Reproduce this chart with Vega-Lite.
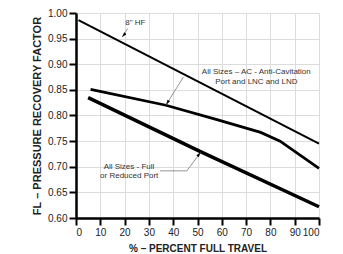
{
  "$schema": "https://vega.github.io/schema/vega-lite/v6.json",
  "width": 243,
  "height": 205,
  "autosize": {"type": "none"},
  "padding": {"left": 76, "top": 13, "right": 24, "bottom": 36},
  "background": "white",
  "config": {
    "view": {"stroke": null},
    "font": "Liberation Sans",
    "axis": {
      "grid": true,
      "gridColor": "#dcdcdc",
      "gridWidth": 1,
      "domainColor": "#000",
      "domainWidth": 2.5,
      "tickColor": "#000",
      "tickWidth": 2,
      "tickSize": 7,
      "labelFont": "Liberation Sans",
      "labelFontSize": 10,
      "labelColor": "#222",
      "labelPadding": 2,
      "labelOverlap": false,
      "titleFont": "Liberation Sans",
      "titleColor": "#222",
      "titleFontWeight": "bold"
    }
  },
  "datasets": {
    "curves": [
      {"series": "8in HF", "x": 1, "y": 0.986},
      {"series": "8in HF", "x": 100, "y": 0.745},
      {"series": "AC", "x": 6, "y": 0.851},
      {"series": "AC", "x": 37, "y": 0.82},
      {"series": "AC", "x": 58, "y": 0.792},
      {"series": "AC", "x": 76, "y": 0.767},
      {"series": "AC", "x": 84, "y": 0.75},
      {"series": "AC", "x": 100, "y": 0.697},
      {"series": "Full", "x": 5, "y": 0.835},
      {"series": "Full", "x": 51, "y": 0.73},
      {"series": "Full", "x": 100, "y": 0.622}
    ],
    "labels": [
      {"text": "8\" HF", "x": 24.4, "y": 0.981},
      {"text": "All Sizes – AC - Anti-Cavitation", "x": 74.2, "y": 0.884},
      {"text": "Port and LNC and LND", "x": 74.2, "y": 0.866},
      {"text": "All Sizes - Full", "x": 21.8, "y": 0.6995},
      {"text": "or Reduced Port", "x": 21.9, "y": 0.682}
    ],
    "callouts": [
      {"id": "HF", "k": 1, "x": 21.3, "y": 0.97},
      {"id": "HF", "k": 2, "x": 19, "y": 0.953},
      {"id": "AC", "k": 1, "x": 44.2, "y": 0.875},
      {"id": "AC", "k": 2, "x": 37.1, "y": 0.821},
      {"id": "Full", "k": 1, "x": 34.6, "y": 0.692},
      {"id": "Full", "k": 2, "x": 45.6, "y": 0.692},
      {"id": "Full", "k": 3, "x": 51.3, "y": 0.728}
    ],
    "tips": [
      {"id": "HF", "x": 19, "y": 0.953},
      {"id": "AC", "x": 37.1, "y": 0.821},
      {"id": "Full", "x": 51.3, "y": 0.728}
    ]
  },
  "encoding": {
    "x": {
      "field": "x", "type": "quantitative",
      "scale": {"domain": [0, 100], "nice": false},
      "axis": {
        "values": [0, 10, 20, 30, 40, 50, 60, 70, 80, 90, 100],
        "title": "% – PERCENT FULL TRAVEL",
        "titleFontSize": 10,
        "titlePadding": 6
      }
    },
    "y": {
      "field": "y", "type": "quantitative",
      "scale": {"domain": [0.6, 1.0], "nice": false, "zero": false},
      "axis": {
        "values": [0.6, 0.65, 0.7, 0.75, 0.8, 0.85, 0.9, 0.95, 1.0],
        "format": ".2f",
        "title": "FL – PRESSURE RECOVERY FACTOR",
        "titleFontSize": 11,
        "titlePadding": 5
      }
    }
  },
  "layer": [
    {
      "data": {"name": "curves"},
      "mark": {"type": "line", "color": "#000", "strokeCap": "butt"},
      "encoding": {
        "detail": {"field": "series"},
        "strokeWidth": {
          "field": "series", "type": "nominal",
          "scale": {"domain": ["8in HF", "AC", "Full"], "range": [2, 3.5, 3.3]},
          "legend": null
        }
      }
    },
    {
      "data": {"name": "callouts"},
      "mark": {"type": "line", "color": "#777", "strokeWidth": 0.8},
      "encoding": {
        "detail": {"field": "id"},
        "order": {"field": "k"}
      }
    },
    {
      "data": {"name": "tips"},
      "transform": [{"filter": "datum.id === 'HF'"}],
      "mark": {"type": "point", "shape": "M0,0L1,3.3L-1,3.3Z", "filled": true, "color": "#000", "opacity": 1, "size": 9, "angle": 220},
      "encoding": {}
    },
    {
      "data": {"name": "tips"},
      "transform": [{"filter": "datum.id === 'AC'"}],
      "mark": {"type": "point", "shape": "M0,0L1,3.3L-1,3.3Z", "filled": true, "color": "#000", "opacity": 1, "size": 9, "angle": 212},
      "encoding": {}
    },
    {
      "data": {"name": "tips"},
      "transform": [{"filter": "datum.id === 'Full'"}],
      "mark": {"type": "point", "shape": "M0,0L1,3.3L-1,3.3Z", "filled": true, "color": "#000", "opacity": 1, "size": 9, "angle": 40},
      "encoding": {}
    },
    {
      "data": {"name": "labels"},
      "mark": {"type": "text", "font": "Liberation Sans", "fontSize": 8, "color": "#333", "align": "center", "baseline": "middle"},
      "encoding": {
        "text": {"field": "text"}
      }
    }
  ]
}
